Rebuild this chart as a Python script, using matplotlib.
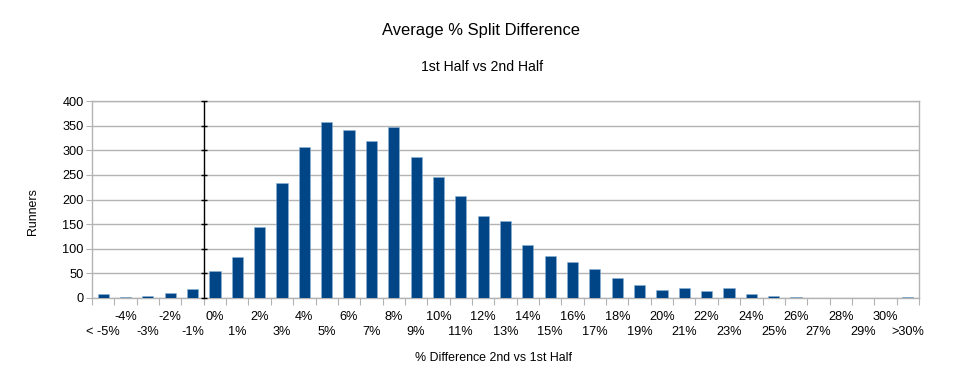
import matplotlib
matplotlib.use("Agg")
import matplotlib.pyplot as plt
import numpy as np

plt.rcParams['font.family'] = ['Liberation Sans', 'DejaVu Sans']

categories = ["< -5%", "-4%", "-3%", "-2%", "-1%"] + [f"{i}%" for i in range(0, 31)] + [">30%"]
runners = [9, 3, 5, 11, 19,
           55, 84, 145, 234, 306, 358, 342, 319, 348, 286,
           245, 208, 167, 156, 108, 86, 73, 58, 40, 27,
           17, 21, 15, 21, 9, 5, 3, 1, 0, 1, 0,
           3]
yticks = [0, 50, 100, 150, 200, 250, 300, 350, 400]

W, H = 960, 384
fig = plt.figure(figsize=(W / 100, H / 100), dpi=100)
L, R, T, B = 92, 919, 101, 298
ax = fig.add_axes([L / W, 1 - B / H, (R - L) / W, (B - T) / H])

x = np.arange(len(categories))
ax.bar(x, runners, width=0.5, color='#004586', edgecolor='#8fb3d4', linewidth=0.4, zorder=3)

ax.set_xlim(-0.5, len(categories) - 0.5)
ax.set_ylim(0, 400)
ax.set_yticks(yticks)
ax.yaxis.grid(True, color='#b3b3b3', linewidth=1.0, zorder=0)
ax.tick_params(axis='y', length=4, color='#b3b3b3', labelsize=9.2, pad=2, direction='out')

for s in ax.spines.values():
    s.set_color('#b3b3b3')
    s.set_linewidth(1.0)

TICK_FS = 9.2
# x-axis: boundary ticks as majors, odd labels on minors (upper row)
ax.set_xticks(np.arange(-0.5, len(categories), 1.0))
ax.set_xticklabels([])
ax.tick_params(axis='x', which='major', length=5, color='#b3b3b3', direction='out')
odd = x[1::2]
ax.set_xticks(odd, minor=True)
ax.set_xticklabels([categories[i] for i in odd], minor=True, fontsize=TICK_FS)
ax.tick_params(axis='x', which='minor', length=0, pad=9)

# lower row labels (even indices) on a secondary axis
sec = ax.secondary_xaxis('bottom')
even = x[0::2]
sec.set_xticks(even)
sec.set_xticklabels([categories[i] for i in even], fontsize=TICK_FS)
sec.tick_params(axis='x', length=0, pad=20)
sec.spines['bottom'].set_visible(False)

# y-axis crossing line between -1% and 0%
cross = 4.5
ax.axvline(cross, color='#000000', linewidth=1.0, zorder=4)
ax.plot([cross] * len(yticks), yticks, linestyle='none', marker='_', markersize=5,
        color='#000000', markeredgewidth=1.0, zorder=4, clip_on=False)

fig.text(481 / W, 1 - 30 / H, "Average % Split Difference", ha='center', va='center', fontsize=11.9)
fig.text(482 / W, 1 - 67 / H, "1st Half vs 2nd Half", ha='center', va='center', fontsize=10.1)
fig.text(494 / W, 1 - 358 / H, "% Difference 2nd vs 1st Half", ha='center', va='center', fontsize=8.9)
fig.text(33 / W, 1 - 212 / H, "Runners", ha='center', va='center', rotation=90, fontsize=8.9)

fig.savefig("out.png", dpi=100)
